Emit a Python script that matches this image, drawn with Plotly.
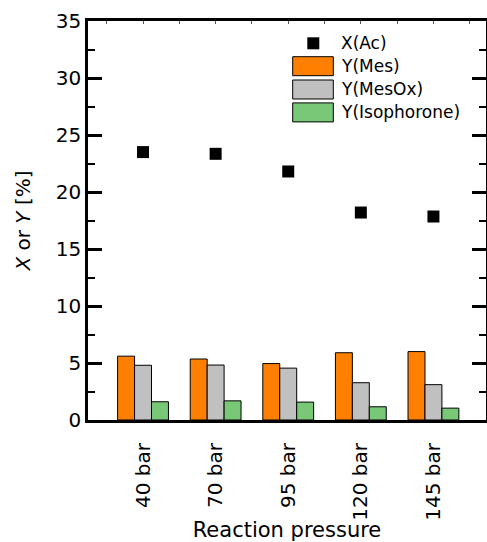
import plotly.graph_objects as go

categories = ["40 bar", "70 bar", "95 bar", "120 bar", "145 bar"]
x_ac = [23.5, 23.35, 21.8, 18.2, 17.85]
y_mes = [5.6, 5.35, 4.95, 5.9, 6.0]
y_mesox = [4.8, 4.82, 4.55, 3.27, 3.1]
y_iso = [1.6, 1.68, 1.57, 1.16, 1.04]

C_MES = "#FF8000"
C_MESOX = "#C0C0C0"
C_ISO = "#78C878"

W, H = 487, 542
L, R, T, B = 88, 1, 21, 122
PW, PH = W - L - R, H - T - B

FONT = "DejaVu Sans"

fig = go.Figure()
for name, vals, col in [("Y(Mes)", y_mes, C_MES), ("Y(MesOx)", y_mesox, C_MESOX),
                        ("Y(Isophorone)", y_iso, C_ISO)]:
    fig.add_trace(go.Bar(x=categories, y=vals, name=name, marker=dict(color=col, line=dict(color="black", width=1)),
                         showlegend=False))
fig.add_trace(go.Scatter(x=categories, y=x_ac, mode="markers", name="X(Ac)",
                         marker=dict(symbol="square", size=12, color="black"), showlegend=False))

def px(x):
    return (x - L) / PW

def py(y):
    return (T + PH - y) / PH

shapes = []
annotations = []
# manual legend
shapes.append(dict(type="rect", xref="paper", yref="paper", x0=px(307.3), x1=px(319.3), y0=py(49.3), y1=py(37.3),
                   fillcolor="black", line=dict(width=0)))
rows = [("X(Ac)", None, 43.3), ("Y(Mes)", C_MES, 66.2), ("Y(MesOx)", C_MESOX, 89.5), ("Y(Isophorone)", C_ISO, 112.4)]
for label, col, yc in rows:
    if col:
        shapes.append(dict(type="rect", xref="paper", yref="paper", x0=px(292.7), x1=px(333.3),
                           y0=py(yc + 9.5), y1=py(yc - 9.5), fillcolor=col, line=dict(color="black", width=1)))
    annotations.append(dict(xref="paper", yref="paper", x=px(339), y=py(yc), text=label, showarrow=False,
                            xanchor="left", yanchor="middle", font=dict(family=FONT, size=17, color="black")))

fig.update_layout(
    width=W, height=H,
    margin=dict(l=L, r=R, t=T, b=B, autoexpand=False),
    paper_bgcolor="white", plot_bgcolor="white",
    barmode="group", bargap=0.3, bargroupgap=0,
    font=dict(family=FONT, size=20, color="black"),
    shapes=shapes, annotations=annotations,
    xaxis=dict(
        type="category", range=[-0.758, 4.724],
        showline=True, linecolor="black", linewidth=3, mirror=True,
        ticks="", tickangle=-90, ticklabelstandoff=12,
        tickfont=dict(family=FONT, size=20),
        title=dict(text="Reaction pressure", font=dict(family=FONT, size=21), standoff=4),
        showgrid=False, zeroline=False, automargin=False,
    ),
    xaxis2=dict(
        overlaying="x", side="top", type="linear", range=[-0.758, 4.724],
        tick0=0, dtick=0.5, ticks="inside", ticklen=3, tickwidth=1, tickcolor="#555",
        showticklabels=False, showgrid=False, zeroline=False, showline=False,
    ),
    yaxis=dict(
        range=[0, 35], dtick=5, tick0=0,
        showline=True, linecolor="black", linewidth=2.5, mirror="ticks",
        ticks="inside", ticklen=14, tickwidth=2.5, tickcolor="black",
        minor=dict(ticks="inside", ticklen=7, tickwidth=2, tickcolor="black", dtick=2.5),
        tickfont=dict(family=FONT, size=20),
        title=dict(text="<i>X</i> or <i>Y</i> [%]", font=dict(family=FONT, size=20), standoff=20),
        showgrid=False, zeroline=False, automargin=False,
    ),
)
fig.add_trace(go.Scatter(x=[None], y=[None], xaxis="x2", showlegend=False, hoverinfo="skip"))

fig.write_html("out.html")
